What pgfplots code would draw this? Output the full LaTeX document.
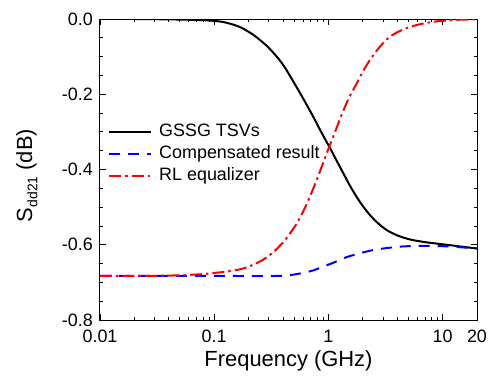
\documentclass[border=0pt]{standalone}
\usepackage{pgfplots}
\pgfplotsset{compat=1.18}
\usepackage{fontspec}
\setmainfont{Liberation Sans}

\pgfplotstableread{
f v
0.01 0.000
0.02 0.000
0.04 -0.001
0.06 -0.002
0.08 -0.003
0.10 -0.005
0.12 -0.008
0.147 -0.015
0.17 -0.022
0.19 -0.030
0.22 -0.042
0.252 -0.056
0.29 -0.072
0.33 -0.090
0.38 -0.112
0.43 -0.136
0.49 -0.165
0.56 -0.195
0.64 -0.226
0.74 -0.261
0.84 -0.293
0.965 -0.327
1.03 -0.342
1.15 -0.370
1.35 -0.410
1.55 -0.444
1.77 -0.473
2.0 -0.497
2.31 -0.521
2.7 -0.542
3.24 -0.561
4.0 -0.575
5.19 -0.586
7.0 -0.593
9.5 -0.598
13 -0.603
20 -0.610
}\gssg

\pgfplotstableread{
f v
0.01 -0.683
0.1 -0.683
0.35 -0.683
0.45 -0.681
0.527 -0.678
0.62 -0.674
0.74 -0.668
0.9 -0.658
1.10 -0.648
1.44 -0.633
1.77 -0.625
2.3 -0.616
3.02 -0.610
4.24 -0.605
6 -0.603
8.2 -0.603
12 -0.605
20 -0.610
}\comp

\pgfplotstableread{
f v
0.01 -0.683
0.02 -0.683
0.04 -0.682
0.06 -0.680
0.08 -0.678
0.10 -0.675
0.13 -0.671
0.18 -0.663
0.25 -0.645
0.32 -0.623
0.40 -0.594
0.46 -0.570
0.52 -0.547
0.60 -0.512
0.68 -0.476
0.78 -0.432
0.88 -0.390
1.03 -0.335
1.15 -0.298
1.30 -0.256
1.50 -0.212
1.77 -0.171
2.0 -0.140
2.31 -0.109
2.8 -0.075
3.46 -0.047
4.5 -0.028
5.93 -0.016
8 -0.008
10 -0.005
14 -0.002
20 -0.001
}\rleq

\begin{document}
\begin{tikzpicture}
\useasboundingbox (-100bp,-61bp) rectangle (396bp,320bp);
\begin{axis}[
  scale only axis,
  width=377bp, height=301bp,
  anchor=south west, at={(0,0)},
  xmode=log,
  xmin=0.01, xmax=20,
  ymin=-0.8, ymax=0,
  xtick={0.01,0.1,1,10,20},
  xticklabels={0.01,0.1,1,10,20},
  minor xtick={0.02,0.03,0.04,0.05,0.06,0.07,0.08,0.09,0.2,0.3,0.4,0.5,0.6,0.7,0.8,0.9,2,3,4,5,6,7,8,9},
  ytick={-0.8,-0.6,-0.4,-0.2,0},
  yticklabels={-0.8,-0.6,-0.4,-0.2,0.0},
  minor y tick num=3,
  tick align=inside,
  major tick length=6bp,
  minor tick length=3bp,
  every tick/.style={black, line width=0.8bp},
  axis line style={black, line width=1bp},
  /pgf/number format/assume math mode=true,
  tick label style={font=\fontsize{18}{20}\selectfont, inner sep=0pt},
  xticklabel style={anchor=base, yshift=-22bp},
  yticklabel style={anchor=east, xshift=-7bp},
  label style={font=\fontsize{22}{24}\selectfont},
  xlabel={Frequency (GHz)},
  xlabel style={at={(axis description cs:0.5,-0.153)}, anchor=base},
  ylabel={S\raisebox{-0.45ex}{\fontsize{14}{14}\selectfont dd21} (dB)},
  ylabel style={at={(axis description cs:-0.194,0.48)}, anchor=center},
  legend style={at={(axis description cs:0.0212,0.655)}, anchor=north west,
    draw=none, fill=none, inner sep=0pt, row sep=5bp,
    font=\fontsize{18}{20}\selectfont,
    nodes={inner sep=0pt, text height=13bp, text depth=4bp},
    /tikz/every odd column/.append style={column sep=7bp}},
  legend cell align=left,
  legend image code/.code={\draw[#1] (0bp,0bp) -- (42bp,0bp);},
]
\addplot[black, line width=2bp, smooth, tension=0.5] table[x=f,y=v] {\gssg};
\addlegendentry{GSSG TSVs}
\addplot[blue, line width=2bp, smooth, tension=0.5, dash pattern=on 11bp off 8bp] table[x=f,y=v] {\comp};
\addlegendentry{Compensated result}
\addplot[red, line width=2bp, smooth, tension=0.5, dash pattern=on 12bp off 4bp on 2.5bp off 4bp] table[x=f,y=v] {\rleq};
\addlegendentry{RL equalizer}
\end{axis}
\end{tikzpicture}
\end{document}
